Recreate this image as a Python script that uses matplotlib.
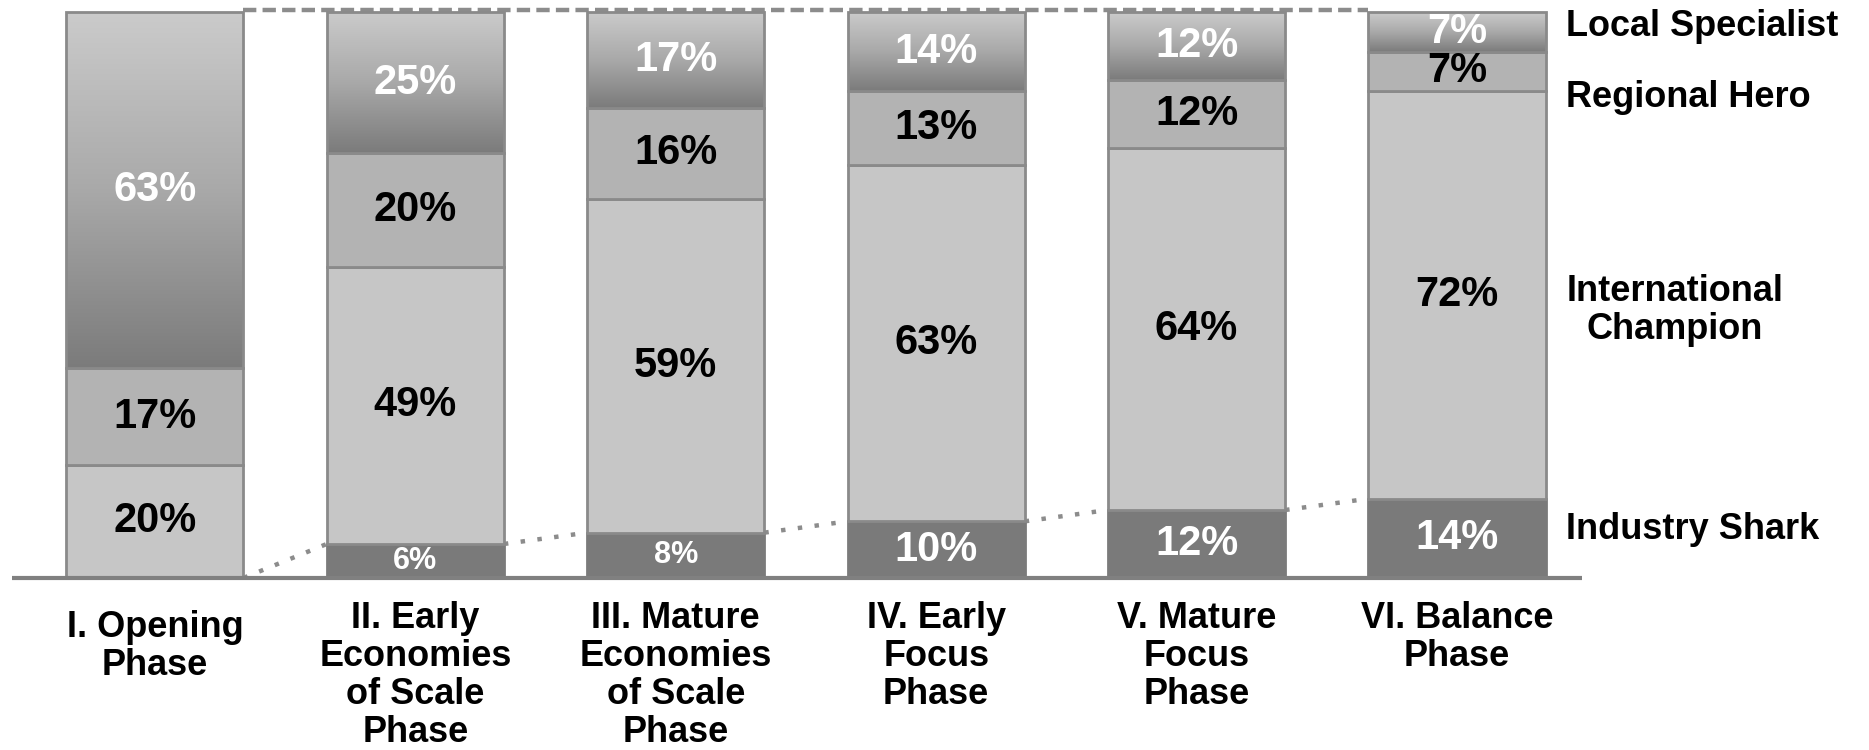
import numpy as np
import matplotlib
matplotlib.use('Agg')
import matplotlib.pyplot as plt
from matplotlib.colors import LinearSegmentedColormap

plt.rcParams['font.family'] = ['Liberation Sans', 'DejaVu Sans']
plt.rcParams['font.weight'] = 'bold'

# data
phases = ['I. Opening\nPhase',
          'II. Early\nEconomies\nof Scale\nPhase',
          'III. Mature\nEconomies\nof Scale\nPhase',
          'IV. Early\nFocus\nPhase',
          'V. Mature\nFocus\nPhase',
          'VI. Balance\nPhase']
industry_shark = [0, 6, 8, 10, 12, 14]
international_champion = [20, 49, 59, 63, 64, 72]
regional_hero = [17, 20, 16, 13, 12, 7]
local_specialist = [63, 25, 17, 14, 12, 7]
series_labels = ['Industry Shark', 'International\nChampion', 'Regional Hero', 'Local Specialist']

# styling
edge = '#8a8a8a'
colors = ['#7a7a7a', '#c6c6c6', '#b3b3b3', None]
text_colors = ['white', 'black', 'black', 'white']
grad_cmap = LinearSegmentedColormap.from_list('grad', ['#7b7b7b', '#a9a9a9', '#cbcbcb'])
width = 0.68

fig = plt.figure(figsize=(18.69, 7.5), dpi=100)
ax = fig.add_axes([0, 0, 1, 1])
ax.set_axis_off()

series = [industry_shark, international_champion, regional_hero, local_specialist]
x = np.arange(len(phases))
bottom = np.zeros(len(phases))
grad = np.linspace(0, 1, 256).reshape(-1, 1)

for j, vals in enumerate(series):
    vals = np.asarray(vals, dtype=float)
    for i in range(len(phases)):
        v = vals[i]
        if v <= 0:
            continue
        if colors[j] is None:
            rect = ax.bar(x[i], v, width, bottom=bottom[i], facecolor='none',
                          edgecolor=edge, linewidth=2, zorder=3)[0]
            im = ax.imshow(grad, extent=(rect.get_x(), rect.get_x() + rect.get_width(),
                                         rect.get_y(), rect.get_y() + rect.get_height()),
                           origin='lower', cmap=grad_cmap, aspect='auto', zorder=2)
            im.set_clip_path(rect)
        else:
            ec = colors[j] if j == 0 else edge
            ax.bar(x[i], v, width, bottom=bottom[i], color=colors[j],
                   edgecolor=ec, linewidth=2, zorder=2)
        fs = 22 if (j == 0 and v < 9) else 30
        ax.text(x[i], bottom[i] + v / 2, f'{int(v)}%', ha='center', va='center',
                fontsize=fs, fontweight='bold', color=text_colors[j], zorder=5)
    bottom += vals

# dotted line linking industry shark tops
for i in range(len(phases) - 1):
    ax.plot([x[i] + width / 2, x[i + 1] - width / 2],
            [industry_shark[i], industry_shark[i + 1]],
            color='#8c8c8c', lw=3.2, ls=(0, (1, 2.8)), zorder=1)

# dashed line across the top
ax.plot([x[0] + width / 2, x[-1] - width / 2], [100.3, 100.3],
        color='#8c8c8c', lw=3.2, ls=(0, (3, 1.4)), zorder=1)

# baseline
ax.plot([-0.55, 5.48], [0, 0], color='#808080', lw=3, zorder=4, solid_capstyle='butt')

# category labels
for i, lab in enumerate(phases):
    y0 = -5.6 if i == 0 else -4.0
    ax.text(x[i], y0, lab, ha='center', va='top', fontsize=26,
            fontweight='bold', linespacing=1.12)

# series labels on the right
label_y = [8.5, 47.3, 84.8, 97.5]
for lab, yy in zip(series_labels, label_y):
    ax.text(5.42, yy, lab, ha='left', va='center', fontsize=26,
            fontweight='bold', multialignment='center', linespacing=1.1)

ax.set_xlim(-0.595, 6.582)
ax.set_ylim(-30.4, 102.1)

fig.savefig('out.png', dpi=100)
